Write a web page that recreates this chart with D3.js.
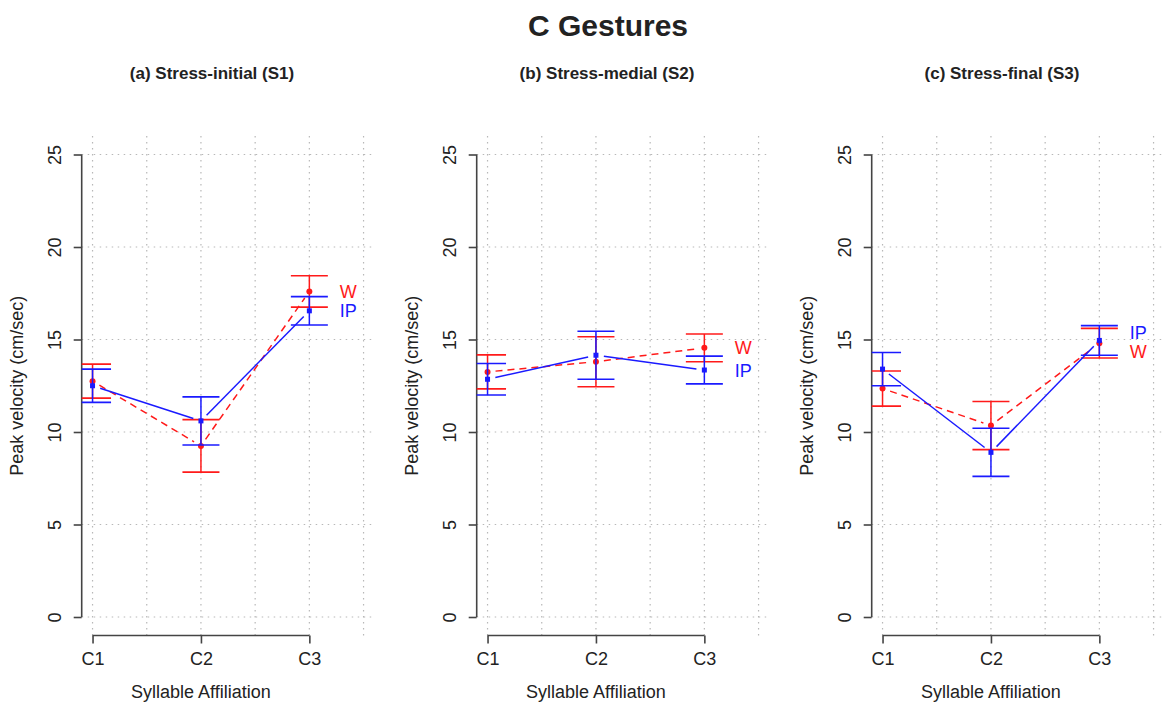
<!DOCTYPE html>
<html>
<head>
<meta charset="utf-8">
<script src="https://cdn.jsdelivr.net/npm/d3@7"></script>
<style>
  body { margin: 0; background: #fff; }
  text { font-family: "Liberation Sans", Arial, sans-serif; fill: #222; }
</style>
</head>
<body>
<script>
// data
var categories = ["C1", "C2", "C3"];
var panelTitles = ["(a) Stress-initial (S1)", "(b) Stress-medial (S2)", "(c) Stress-final (S3)"];
var yTicks = [0, 5, 10, 15, 20, 25];

var ipMean = [[12.5, 10.6, 16.55], [12.85, 14.15, 13.35], [13.4, 8.9, 14.95]];
var ipErr  = [[0.9, 1.3, 0.77],    [0.85, 1.3, 0.75],    [0.9, 1.3, 0.8]];
var wMean  = [[12.75, 9.25, 17.6], [13.25, 13.8, 14.55], [12.35, 10.35, 14.8]];
var wErr   = [[0.92, 1.42, 0.85],  [0.92, 1.35, 0.75],   [0.95, 1.3, 0.8]];

var W = 1165, H = 706;
var svg = d3.select("body").append("svg")
    .attr("width", W)
    .attr("height", H);

svg.append("text")
    .attr("x", 608).attr("y", 36)
    .attr("text-anchor", "middle")
    .style("font-size", "30px")
    .style("font-weight", "bold")
    .text("C Gestures");

var panelStep = 395;
var plotW = 292.7, plotTop = 136, plotBottom = 635.5;

panelTitles.forEach(function (title, p) {
    var left = 81.7 + p * panelStep;

    // R style: xlim 1..3.5, ylim 0..25 with 4% padding
    var x = d3.scaleLinear().domain([0.9, 3.6]).range([left, left + plotW]);
    var y = d3.scaleLinear().domain([-1, 26]).range([plotBottom, plotTop]);

    var g = svg.append("g");

    g.append("text")
        .attr("x", 212 + p * panelStep).attr("y", 79)
        .attr("text-anchor", "middle")
        .style("font-size", "17px")
        .style("font-weight", "bold")
        .text(title);

    var clipId = "clip" + p;
    g.append("clipPath").attr("id", clipId)
        .append("rect")
        .attr("x", left).attr("y", plotTop)
        .attr("width", plotW).attr("height", plotBottom - plotTop);

    // dotted grid
    var gridColor = "#b8b8b8";
    g.selectAll(".vgrid")
        .data(d3.range(1, 3.51, 0.5))
        .enter().append("line")
        .attr("x1", function (d) { return x(d); })
        .attr("x2", function (d) { return x(d); })
        .attr("y1", plotTop).attr("y2", plotBottom)
        .attr("stroke", gridColor)
        .attr("stroke-width", 1.2)
        .attr("stroke-dasharray", "1.5,4.5");
    g.selectAll(".hgrid")
        .data(yTicks)
        .enter().append("line")
        .attr("x1", left).attr("x2", left + plotW)
        .attr("y1", function (d) { return y(d); })
        .attr("y2", function (d) { return y(d); })
        .attr("stroke", gridColor)
        .attr("stroke-width", 1.2)
        .attr("stroke-dasharray", "1.5,4.5");

    // y axis
    var yAxis = g.append("g")
        .attr("transform", "translate(" + left + ",0)")
        .call(d3.axisLeft(y).tickValues(yTicks).tickSize(8).tickPadding(0).tickFormat(d3.format("d")));
    yAxis.select(".domain")
        .attr("d", "M0," + y(0) + "V" + y(25))
        .attr("stroke", "#444").attr("stroke-width", 1.6);
    yAxis.selectAll(".tick line").attr("stroke", "#444").attr("stroke-width", 1.6);
    yAxis.selectAll(".tick text")
        .attr("x", null)
        .attr("transform", "translate(-27,0) rotate(-90)")
        .attr("text-anchor", "middle")
        .attr("dy", "0.35em")
        .style("font-size", "18px")
        .style("font-family", "'Liberation Sans', Arial, sans-serif")
        .attr("fill", "#222");

    // x axis
    var xAxis = g.append("g")
        .attr("transform", "translate(0," + plotBottom + ")")
        .call(d3.axisBottom(x).tickValues([1, 2, 3]).tickSize(8).tickPadding(9)
            .tickFormat(function (d) { return categories[d - 1]; }));
    xAxis.select(".domain")
        .attr("d", "M" + x(1) + ",0H" + x(3))
        .attr("stroke", "#444").attr("stroke-width", 1.6);
    xAxis.selectAll(".tick line").attr("stroke", "#444").attr("stroke-width", 1.6);
    xAxis.selectAll(".tick text")
        .style("font-size", "18px")
        .style("font-family", "'Liberation Sans', Arial, sans-serif")
        .attr("fill", "#222");

    g.append("text")
        .attr("x", x(2)).attr("y", 698)
        .attr("text-anchor", "middle")
        .style("font-size", "18px")
        .text("Syllable Affiliation");

    g.append("text")
        .attr("transform", "translate(" + (left - 59) + "," + ((plotTop + plotBottom) / 2) + ") rotate(-90)")
        .attr("text-anchor", "middle")
        .style("font-size", "18px")
        .text("Peak velocity (cm/sec)");

    var plot = g.append("g").attr("clip-path", "url(#" + clipId + ")");

    var series = [
        { mean: wMean[p], err: wErr[p], color: "#ff1a1a", dash: "7,5", shape: "circle" },
        { mean: ipMean[p], err: ipErr[p], color: "#1a1aff", dash: null, shape: "square" }
    ];

    series.forEach(function (s) {
        var pts = s.mean.map(function (v, i) { return [x(i + 1), y(v)]; });

        // lines with gaps around the points (type = "b")
        var gap = 8;
        for (var i = 0; i < pts.length - 1; i++) {
            var a = pts[i], b = pts[i + 1];
            var dx = b[0] - a[0], dy = b[1] - a[1];
            var len = Math.sqrt(dx * dx + dy * dy);
            var ux = dx / len, uy = dy / len;
            plot.append("line")
                .attr("x1", a[0] + ux * gap).attr("y1", a[1] + uy * gap)
                .attr("x2", b[0] - ux * gap).attr("y2", b[1] - uy * gap)
                .attr("stroke", s.color)
                .attr("stroke-width", 1.5)
                .attr("stroke-dasharray", s.dash);
        }

        // error bars
        s.mean.forEach(function (v, i) {
            var cx = x(i + 1), hi = y(v + s.err[i]), lo = y(v - s.err[i]);
            plot.append("line")
                .attr("x1", cx).attr("x2", cx).attr("y1", hi).attr("y2", lo)
                .attr("stroke", s.color).attr("stroke-width", 1.5);
            [hi, lo].forEach(function (yy) {
                plot.append("line")
                    .attr("x1", cx - 18.5).attr("x2", cx + 18.5)
                    .attr("y1", yy).attr("y2", yy)
                    .attr("stroke", s.color).attr("stroke-width", 1.6);
            });
        });

        // points
        if (s.shape === "circle") {
            plot.selectAll(null).data(pts).enter().append("circle")
                .attr("cx", function (d) { return d[0]; })
                .attr("cy", function (d) { return d[1]; })
                .attr("r", 3)
                .attr("fill", s.color);
        } else {
            plot.selectAll(null).data(pts).enter().append("rect")
                .attr("x", function (d) { return d[0] - 2.5; })
                .attr("y", function (d) { return d[1] - 2.5; })
                .attr("width", 5).attr("height", 5)
                .attr("fill", s.color);
        }
    });

    // end labels, pushed apart when the last points are close
    var wEnd = wMean[p][2], ipEnd = ipMean[p][2];
    var wLab = wEnd, ipLab = ipEnd;
    if (Math.abs(wEnd - ipEnd) < 0.9) {
        var mid = (wEnd + ipEnd) / 2;
        var sign = ipEnd >= wEnd ? 1 : -1;
        ipLab = mid + sign * 0.5;
        wLab = mid - sign * 0.5;
    }
    g.append("text")
        .attr("x", x(3.28)).attr("y", y(wLab))
        .attr("dy", "0.36em")
        .style("font-size", "18px")
        .style("fill", "#ff1a1a")
        .text("W");
    g.append("text")
        .attr("x", x(3.28)).attr("y", y(ipLab))
        .attr("dy", "0.36em")
        .style("font-size", "18px")
        .style("fill", "#1a1aff")
        .text("IP");
});
</script>
</body>
</html>
